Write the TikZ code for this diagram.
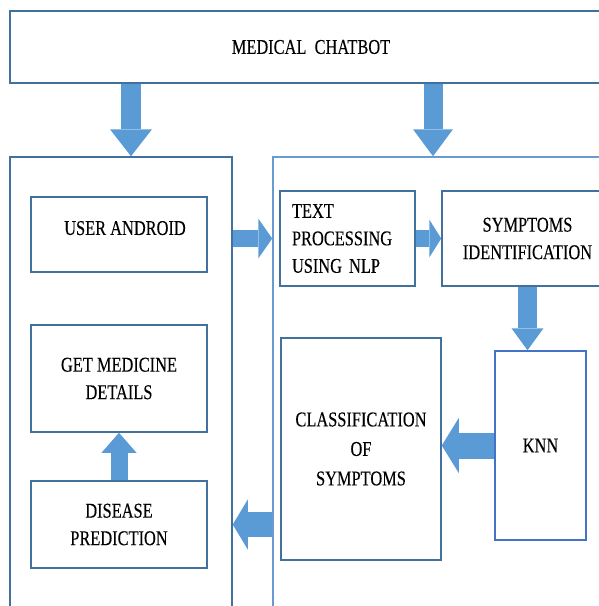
\documentclass[tikz,border=0pt]{standalone}
\usepackage{fontspec}
\setmainfont{Liberation Serif}[FakeStretch=0.78,FakeBold=0.2]
\usetikzlibrary{positioning,arrows.meta}
\definecolor{arrowblue}{HTML}{5B9BD5}
\definecolor{boxblue}{HTML}{41719C}
\definecolor{knnblue}{HTML}{4472C4}
\definecolor{paleblue}{HTML}{6A9BD0}
\tikzset{
box/.style={draw=boxblue, line width=1.5pt, rectangle, inner sep=0pt, align=center, font=\fontsize{21}{27.5}\selectfont},
bigarrow/.style n args={3}{draw=arrowblue, line width=#1, -{Triangle[width=#2,length=#3,line width=0pt]}}
}

\begin{document}
\begin{tikzpicture}[x=1pt,y=-1pt]
\useasboundingbox (0,0) rectangle (599,606);
\clip (0,0) rectangle (599,606);
% containers
\node[box, minimum width=602pt, minimum height=72pt] (top) at (311,47) {MEDICAL\ \ CHATBOT};
\node[box, minimum width=222pt, minimum height=483pt] (mobile) at (121,398.5) {};
\node[box, draw=paleblue, minimum width=340pt, minimum height=483pt] (server) at (443,398.5) {};
% left side
\node[box, minimum width=176pt, minimum height=75pt, text depth=13pt] (android) at (119,234.5) {\hspace{12pt}USER ANDROID};
\node[box, minimum width=176pt, minimum height=107pt] (medicine) at (119,378.5) {GET MEDICINE\\DETAILS};
\node[box, minimum width=176pt, minimum height=87pt] (disease) at (119,524.5) {DISEASE\\PREDICTION};
% right side
\node[box, align=left, text width=111pt, inner xsep=12pt, minimum height=95pt] (nlp) at (347.5,238.5) {TEXT\\PROCESSING\\USING NLP};
\node[box, minimum width=171pt, minimum height=95pt] (symp) at (527.5,238.5) {SYMPTOMS\\IDENTIFICATION};
\node[box, draw=knnblue, minimum width=91pt, minimum height=189pt] (knn) at (540.5,445.5) {KNN};
\node[box, minimum width=160pt, minimum height=222pt, font=\fontsize{21}{29.5}\selectfont] (class) at (361,449) {CLASSIFICATION\\OF\\SYMPTOMS};
% block arrows
\coordinate (ltip) at ([xshift=10pt]mobile.north);
\coordinate (rtip) at ([xshift=-10pt]server.north);
\draw[bigarrow={20pt}{42pt}{27pt}] (ltip |- top.south) -- (ltip);
\draw[bigarrow={19pt}{40pt}{27pt}] (rtip |- top.south) -- (rtip);
\draw[bigarrow={17pt}{40pt}{14pt}] (mobile.east |- nlp.west) -- (server.west |- nlp.west);
\draw[bigarrow={17pt}{38pt}{12pt}] (nlp.east) -- (symp.west);
\draw[bigarrow={19pt}{32pt}{22pt}] (symp.south) -- (symp.south |- knn.north);
\draw[bigarrow={26pt}{55pt}{17pt}] (knn.west) -- (knn.west -| class.east);
\draw[bigarrow={25pt}{50pt}{15pt}] (server.west |- disease.east) -- (disease.east -| mobile.east);
\draw[bigarrow={17pt}{35pt}{20pt}] (disease.north) -- (medicine.south);
\end{tikzpicture}
\end{document}
